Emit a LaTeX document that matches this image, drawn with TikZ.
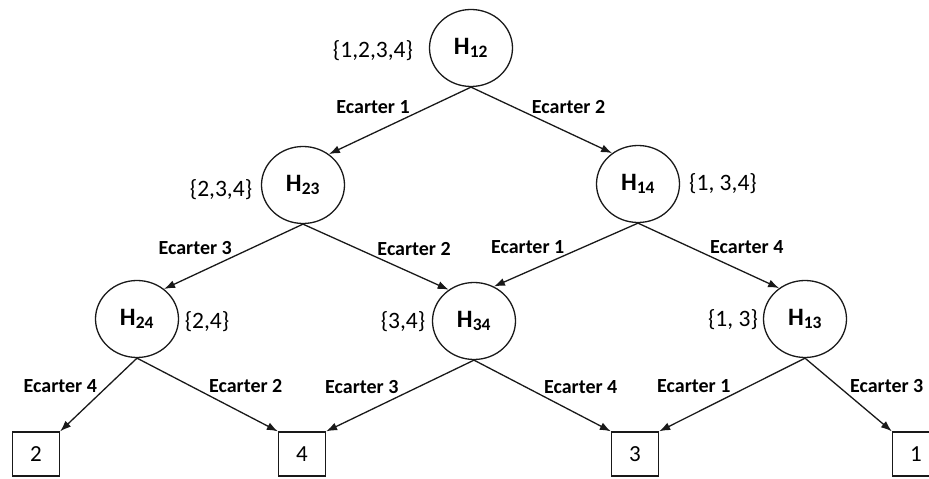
\documentclass[tikz,border=0pt]{standalone}
\usepackage{fontspec}
\setmainfont{Carlito}
\usepackage{tikz}
\usetikzlibrary{shapes.geometric,arrows.meta,positioning}
\definecolor{LineBk}{RGB}{25,25,25}

\begin{document}
\begin{tikzpicture}[x=1pt,y=1pt,
  hyp/.style={draw=LineBk,line width=1.3pt,ellipse,minimum width=83pt,minimum height=77pt,inner sep=0pt,font=\fontsize{25}{27}\selectfont\bfseries},
  leaf/.style={draw=LineBk,line width=1.3pt,minimum width=47pt,minimum height=44pt,inner sep=0pt,font=\fontsize{23}{25}\selectfont},
  setlbl/.style={inner sep=0pt,font=\fontsize{23.5}{25}\selectfont},
  elbl/.style={inner sep=1pt,font=\fontsize{20}{22}\selectfont\bfseries},
  arr/.style={draw=LineBk,line width=1.3pt,-{Latex[length=11pt,width=8pt]}}]
\useasboundingbox (0,0) rectangle (929,479);

% hypothesis nodes (y = 479 - pixel row)
\node[hyp] (h12) at (471,431) {H\textsubscript{12}\hspace{4pt}};
\node[hyp] (h23) at (303,294) {H\textsubscript{23}\hspace{4pt}};
\node[hyp] (h14) at (638,295) {H\textsubscript{14}\hspace{4pt}};
\node[hyp] (h24) at (137,160) {H\textsubscript{24}\hspace{4pt}};
\node[hyp] (h34) at (474,158) {H\textsubscript{34}\hspace{4pt}};
\node[hyp] (h13) at (805,160) {H\textsubscript{13}\hspace{4pt}};

% remaining sets
\node[setlbl] (s12) at (373,428) {\{1,2,3,4\}};
\node[setlbl] (s23) at (221,289) {\{2,3,4\}};
\node[setlbl] (s14) at (723,295) {\{1, 3,4\}};
\node[setlbl] (s24) at (207,157) {\{2,4\}};
\node[setlbl] (s34) at (403,157) {\{3,4\}};
\node[setlbl] (s13) at (733,159) {\{1, 3\}};

% final decisions
\node[leaf] (b2) at (36,25)  {2};
\node[leaf] (b4) at (302,25) {4};
\node[leaf] (b3) at (635,25) {3};
\node[leaf] (b1) at (916,25) {1};

% level 1
\draw[arr] (h12.south) -- node[elbl,pos=.42,anchor=south east]{Ecarter 1} (h23.50);
\draw[arr] (h12.south) -- node[elbl,pos=.42,anchor=south west]{Ecarter 2} (h14.130);
% level 2
\draw[arr] (h23.south) -- node[elbl,pos=.5,anchor=south east]{Ecarter 3} (h24.48);
\draw[arr] (h23.south) -- node[elbl,pos=.5,anchor=south west]{Ecarter 2} (h34.129);
\draw[arr] (h14.south) -- node[elbl,pos=.5,anchor=south east]{Ecarter 1} (h34.60);
\draw[arr] (h14.south) -- node[elbl,pos=.5,anchor=south west]{Ecarter 4} (h13.130);
% level 3
\draw[arr] (h24.south) -- node[elbl,pos=.5,anchor=south east]{Ecarter 4} (b2.north east);
\draw[arr] (h24.south) -- node[elbl,pos=.5,anchor=south west]{Ecarter 2} (b4.north west);
\draw[arr] (h34.south) -- node[elbl,pos=.5,anchor=south east]{Ecarter 3} (b4.north east);
\draw[arr] (h34.south) -- node[elbl,pos=.5,anchor=south west]{Ecarter 4} (b3.north west);
\draw[arr] (h13.south) -- node[elbl,pos=.5,anchor=south east]{Ecarter 1} (b3.north east);
\draw[arr] (h13.south) -- node[elbl,pos=.5,anchor=south west]{Ecarter 3} (b1.north west);
\end{tikzpicture}
\end{document}
